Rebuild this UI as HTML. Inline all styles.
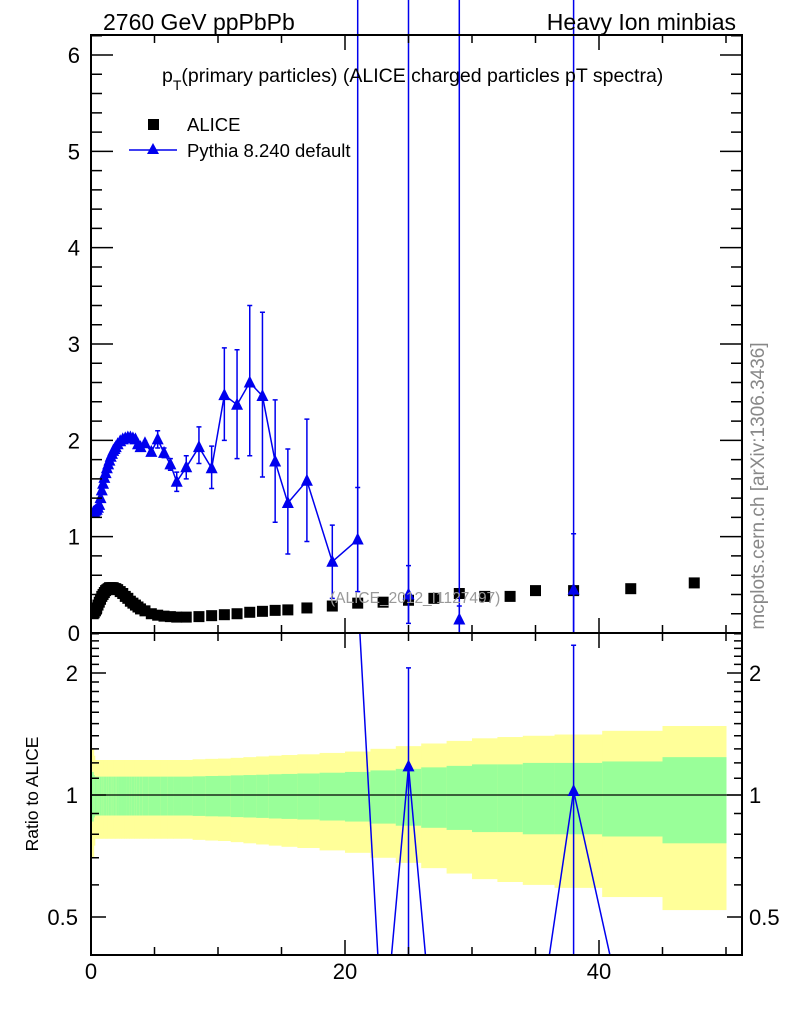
<!DOCTYPE html>
<html><head><meta charset="utf-8"><style>
html,body{margin:0;padding:0;background:#fff;}
svg{display:block;font-family:"Liberation Sans",Arial,sans-serif;}
</style></head><body>
<svg id="chart" width="786" height="1024" viewBox="0 0 786 1024" xmlns="http://www.w3.org/2000/svg">
<defs>
<clipPath id="clipMain"><rect x="91" y="35" width="651" height="598"/></clipPath>
<clipPath id="clipRatio"><rect x="91" y="633" width="651" height="322"/></clipPath>
</defs>
<g id="bands" clip-path="url(#clipRatio)"></g>
<g id="marks"></g>
<g id="axes"></g>
<text x="103" y="30" font-size="23">2760 GeV ppPbPb</text>
<text x="736" y="30" font-size="23" text-anchor="end">Heavy Ion minbias</text>
<text x="162" y="82" font-size="19.5">p<tspan font-size="14" dy="8">T</tspan><tspan dy="-8">(primary particles) (ALICE charged particles pT spectra)</tspan></text>
<g>
<rect x="148" y="119" width="11" height="11" fill="#000"/>
<text x="187" y="131" font-size="18.5">ALICE</text>
<line x1="129" y1="150" x2="177" y2="150" stroke="#0000ee" stroke-width="1.5"/>
<polygon points="153,143 147,154 159,154" fill="#0000ee"/>
<text x="187" y="157" font-size="18.5">Pythia 8.240 default</text>
</g>
<text x="330" y="603" font-size="15.5" fill="#999">(ALICE_2012_I1127497)</text>
<text transform="translate(764,486) rotate(-90)" font-size="19" fill="#888" text-anchor="middle">mcplots.cern.ch [arXiv:1306.3436]</text>
<text transform="translate(38,794) rotate(-90)" font-size="17.5" text-anchor="middle">Ratio to ALICE</text>
</svg>
<script>
const ptBins = [0.175,0.25,0.35,0.45,0.55,0.65,0.75,0.85,0.95,1.05,1.15,1.25,1.35,1.45,1.55,1.65,1.75,1.85,1.95,2.1,2.3,2.5,2.7,2.9,3.1,3.3,3.5,3.7,3.9,4.25,4.75,5.25,5.75,6.25,6.75,7.5,8.5,9.5,10.5,11.5,12.5,13.5,14.5,15.5,17,19,21,23,25,27,29,31,33,35,38,42.5,47.5];
const aliceVals = [0.20,0.21,0.23,0.26,0.29,0.32,0.35,0.38,0.40,0.42,0.44,0.45,0.46,0.47,0.47,0.47,0.47,0.46,0.46,0.45,0.43,0.41,0.38,0.36,0.33,0.31,0.29,0.27,0.25,0.23,0.20,0.185,0.175,0.17,0.165,0.165,0.17,0.18,0.19,0.20,0.215,0.225,0.235,0.24,0.26,0.28,0.31,0.32,0.34,0.36,0.41,0.38,0.38,0.44,0.44,0.46,0.52];
const aliceStatRel = [0.14,0.12,0.11,0.11,0.11,0.11,0.11,0.11,0.11,0.11,0.11,0.11,0.11,0.11,0.11,0.11,0.11,0.11,0.11,0.11,0.11,0.11,0.11,0.11,0.11,0.11,0.11,0.11,0.11,0.11,0.11,0.11,0.11,0.11,0.11,0.11,0.112,0.114,0.115,0.118,0.12,0.122,0.125,0.127,0.13,0.135,0.14,0.15,0.16,0.17,0.18,0.19,0.19,0.20,0.20,0.21,0.24];
const aliceTotRel = [0.30,0.25,0.22,0.22,0.22,0.22,0.22,0.22,0.22,0.22,0.22,0.22,0.22,0.22,0.22,0.22,0.22,0.22,0.22,0.22,0.22,0.22,0.22,0.22,0.22,0.22,0.22,0.22,0.22,0.22,0.22,0.22,0.22,0.22,0.22,0.22,0.225,0.228,0.23,0.235,0.24,0.245,0.25,0.255,0.26,0.27,0.28,0.30,0.32,0.34,0.36,0.38,0.39,0.40,0.41,0.44,0.48];
const pythiaVals = [1.25,1.26,1.27,1.28,1.30,1.33,1.40,1.48,1.55,1.61,1.66,1.71,1.75,1.79,1.83,1.86,1.89,1.91,1.93,1.96,1.99,2.01,2.02,2.03,2.03,2.02,2.01,1.96,1.93,1.97,1.88,2.01,1.87,1.75,1.57,1.72,1.93,1.71,2.47,2.37,2.60,2.46,1.78,1.35,1.58,0.74,0.97,0,0.40,0,0.14,0,0,0,0.45,0,0];
const pythiaErrUp = [0,0,0,0,0,0,0,0,0,0,0,0,0,0,0,0,0,0,0,0,0,0,0,0,0,0,0,0,0,0.02,0.04,0.09,0.05,0.06,0.10,0.12,0.21,0.23,0.49,0.57,0.80,0.87,0.64,0.56,0.64,0.38,0.54,0,0.30,0,0.14,0,0,0,0.58,0,0];
const pythiaErrDn = [0,0,0,0,0,0,0,0,0,0,0,0,0,0,0,0,0,0,0,0,0,0,0,0,0,0,0,0,0,0.02,0.04,0.09,0.05,0.06,0.10,0.12,0.17,0.21,0.47,0.56,0.76,0.84,0.63,0.53,0.63,0.38,0.54,0,0.30,0,0.14,0,0,0,0.45,0,0];
const xTickLabels = ["0","20","40"];
const yMainTickLabels = ["0","1","2","3","4","5","6"];
const yRatioTickLabels = ["0.5","1","2"];

const NS="http://www.w3.org/2000/svg";
const L=91,R=742,T=35,MB=633,RB=955;
const XMAX=(R-L)/12.7;
function xs(v){return L+v*(R-L)/XMAX;}
function ym(v){return MB-v*96.33;}
function yr(v){return 795-122*Math.log2(v);}
function mk(tag,attrs,parent){const e=document.createElementNS(NS,tag);for(const k in attrs)e.setAttribute(k,attrs[k]);parent.appendChild(e);return e;}
const marks=document.getElementById('marks');
const axes=document.getElementById('axes');
const bands=document.getElementById('bands');

const edges=[0];
for(let i=0;i<ptBins.length-1;i++)edges.push((ptBins[i]+ptBins[i+1])/2);
edges.push(ptBins[ptBins.length-1]+(ptBins[ptBins.length-1]-edges[edges.length-1]));

for(let i=0;i<ptBins.length;i++){
  const x1=xs(edges[i]),x2=xs(edges[i+1]);
  const t=aliceTotRel[i],g=aliceStatRel[i];
  const yb=mk('rect',{x:x1,y:yr(1+t),width:x2-x1+0.5,height:yr(1-t)-yr(1+t),fill:'#ffff99'},bands);
  
  
  const gb=mk('rect',{x:x1,y:yr(1+g),width:x2-x1+0.5,height:yr(1-g)-yr(1+g),fill:'#99ff99'},bands);
  
  
}
const one=mk('line',{x1:L,x2:R,y1:yr(1),y2:yr(1),stroke:'#000','stroke-width':1.2},bands);



const gm=mk('g',{'clip-path':'url(#clipMain)'},marks);


for(let i=0;i<ptBins.length;i++){
  const s=mk('rect',{x:xs(ptBins[i])-5.5,y:ym(aliceVals[i])-5.5,width:11,height:11,fill:'#000'},gm);
  
  
}
let seg=[];
function flush(){if(seg.length>1){const p=mk('polyline',{points:seg.join(' '),fill:'none',stroke:'#0000ee','stroke-width':1.5},gm);}seg=[];}
for(let i=0;i<ptBins.length;i++){
  if(pythiaVals[i]>0)seg.push(xs(ptBins[i])+','+ym(pythiaVals[i]));else flush();
}
flush();
for(let i=0;i<ptBins.length;i++){
  const v=pythiaVals[i];if(v<=0)continue;
  const x=xs(ptBins[i]),y=ym(v);
  if(pythiaErrUp[i]>0){
    const yt=ym(v+pythiaErrUp[i]),yl=ym(Math.max(0,v-pythiaErrDn[i]));
    const e=mk('path',{d:`M${x},${yt}V${yl}M${x-2.5},${yt}H${x+2.5}M${x-2.5},${yl}H${x+2.5}`,stroke:'#0000ee','stroke-width':1.5,fill:'none'},gm);
    
    
  }
  const t=mk('polygon',{points:`${x},${y-7} ${x-6},${y+5} ${x+6},${y+5}`,fill:'#0000ee'},gm);
  
  
}
for(let i=0;i<ptBins.length;i++){
  if(ptBins[i]>=20&&pythiaVals[i]>0){
    const x=xs(ptBins[i]);
    const l=mk('line',{x1:x,x2:x,y1:0,y2:Math.min(640,ym(Math.max(0,pythiaVals[i]-pythiaErrDn[i]))),stroke:'#0000ee','stroke-width':1.5},marks);
    
    
  }
}

const gr=mk('g',{'clip-path':'url(#clipRatio)'},marks);


function yrSafe(v){return v>0?yr(v):RB+94;}
const rpts=[];
for(let i=0;i<ptBins.length;i++)rpts.push(xs(ptBins[i])+','+Math.max(-2000,yrSafe(pythiaVals[i]/aliceVals[i])));
const rl=mk('polyline',{points:rpts.join(' '),fill:'none',stroke:'#0000ee','stroke-width':1.5},gr);


for(let i=0;i<ptBins.length;i++){
  const v=pythiaVals[i];if(v<=0)continue;
  const r=v/aliceVals[i],x=xs(ptBins[i]),y=yr(r);
  if(y<MB||y>RB)continue;
  const up=(v+pythiaErrUp[i])/aliceVals[i],dn=(v-pythiaErrDn[i])/aliceVals[i];
  const yt=yr(up),yl=yrSafe(dn);
  const e=mk('path',{d:`M${x},${yt}V${yl}M${x-2.5},${yt}H${x+2.5}`,stroke:'#0000ee','stroke-width':1.5,fill:'none'},gr);
  
  
  const t=mk('polygon',{points:`${x},${y-7} ${x-6},${y+5} ${x+6},${y+5}`,fill:'#0000ee'},gr);
  
  
}

const f1=mk('rect',{x:L,y:T,width:R-L,height:MB-T,fill:'none',stroke:'#000','stroke-width':2},axes);


const f2=mk('rect',{x:L,y:MB,width:R-L,height:RB-MB,fill:'none',stroke:'#000','stroke-width':2},axes);


let d='';
for(let v=0;v<=XMAX+0.01;v+=5){
  const x=xs(v),major=(v%20===0),len=major?15:8;
  d+=`M${x},${T}v${len}M${x},${MB}v${-len}M${x},${MB}v${len}M${x},${RB}v${-len}`;
}
for(let k=0;k<=31;k++){
  const v=k*0.2,y=ym(v);if(y<T)break;
  const major=(k%5===0),len=major?22:11;
  d+=`M${L},${y}h${len}M${R},${y}h${-len}`;
}
for(let k=5;k<=25;k++){
  const v=k/10,y=yr(v);if(y<MB||y>RB)continue;
  const major=(k===5||k===10||k===20),len=major?15:8;
  d+=`M${L},${y}h${len}M${R},${y}h${-len}`;
}
const tk=mk('path',{d:d,stroke:'#000','stroke-width':1.5,fill:'none'},axes);


xTickLabels.forEach(s=>{
  const t=mk('text',{x:xs(+s),y:979,'font-size':22,'text-anchor':'middle'},axes);t.textContent=s;
  
  
});
yMainTickLabels.forEach(s=>{
  const t=mk('text',{x:80,y:ym(+s)+8,'font-size':22,'text-anchor':'end'},axes);t.textContent=s;
  
  
});
yRatioTickLabels.forEach(s=>{
  const t=mk('text',{x:78,y:yr(+s)+8,'font-size':22,'text-anchor':'end'},axes);t.textContent=s;
  
  
  const t2=mk('text',{x:749,y:yr(+s)+8,'font-size':22},axes);t2.textContent=s;
  
  
});
</script>
</body></html>
